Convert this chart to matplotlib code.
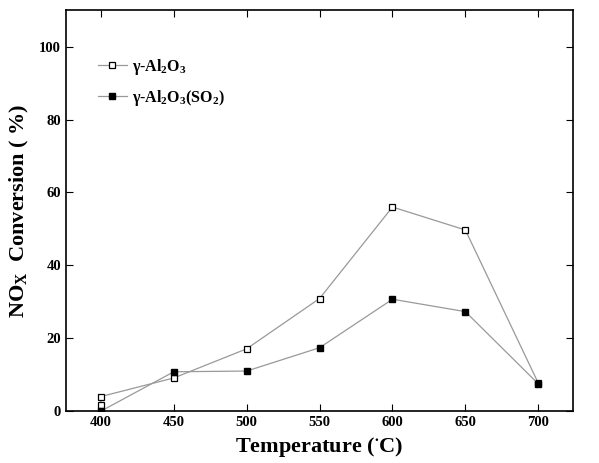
import matplotlib.pyplot as plt

temps = [400, 450, 500, 550, 600, 650, 700]
temps_open = [400, 400, 450, 500, 550, 600, 650, 700]
al2o3 = [1.8, 4.0, 9.1, 17.1, 30.9, 56.0, 49.7, 7.7]
al2o3_so2 = [0.0, 10.8, 11.0, 17.4, 30.7, 27.3, 7.5]

plt.rcParams['font.family'] = 'Liberation Serif'
plt.rcParams['font.weight'] = 'bold'
plt.rcParams['mathtext.fontset'] = 'custom'
plt.rcParams['mathtext.rm'] = 'Liberation Serif:bold'
plt.rcParams['mathtext.it'] = 'Liberation Serif:bold'
plt.rcParams['mathtext.bf'] = 'Liberation Serif:bold'

fig = plt.figure(figsize=(5.99, 4.63), dpi=100)
ax = fig.add_axes([0.110, 0.112, 0.847, 0.866])

ax.plot(temps_open, al2o3, color='#999999', lw=0.9, marker='s', ms=5,
        mfc='white', mec='black', mew=0.9, label=r'$\gamma$-Al$_2$O$_3$')
ax.plot(temps, al2o3_so2, color='#999999', lw=0.9, marker='s', ms=5,
        mfc='black', mec='black', label=r'$\gamma$-Al$_2$O$_3$(SO$_2$)')

ax.set_xlim(376, 724)
ax.set_ylim(0, 110)
ax.set_xticks(temps)
ax.set_yticks([0, 20, 40, 60, 80, 100])
ax.tick_params(direction='in', top=True, right=True, labelsize=10.5, length=5)
for s in ax.spines.values():
    s.set_linewidth(1.2)

ax.set_xlabel('Temperature ($^{\\bullet}$C)', fontsize=16, fontweight='bold', labelpad=4)
ax.set_ylabel('NO$_X$  Conversion ( %)', fontsize=16, fontweight='bold', labelpad=6)

ax.legend(loc='upper left', bbox_to_anchor=(0.035, 0.92), frameon=False,
          fontsize=11.5, handlelength=1.8, handletextpad=0.3, labelspacing=0.7)

fig.savefig('out.png', dpi=100)
